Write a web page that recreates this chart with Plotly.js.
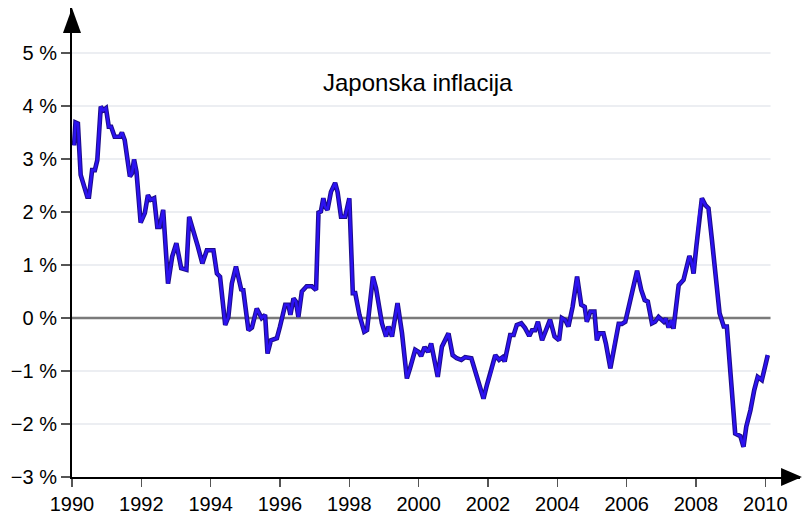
<!DOCTYPE html>
<html>
<head>
<meta charset="utf-8">
<script src="https://cdn.plot.ly/plotly-3.0.1.min.js"></script>
<style>html,body{margin:0;padding:0;background:#fff;}#chart{width:803px;height:516px;}</style>
</head>
<body>
<div id="chart"></div>
<script>
// Japan inflation (%), decimal years
const years = [
1990.06,1990.10,1990.17,1990.25,1990.44,1990.49,1990.58,1990.66,1990.73,1990.83,1990.90,1990.98,
1991.06,1991.13,1991.23,1991.38,1991.44,1991.52,1991.67,1991.73,1991.79,1991.86,1991.98,
1992.10,1992.19,1992.27,1992.37,1992.46,1992.53,1992.63,1992.77,1992.89,
1993.01,1993.15,1993.30,1993.38,1993.63,1993.76,1993.89,
1994.08,1994.18,1994.27,1994.42,1994.51,1994.61,1994.73,1994.88,1994.94,
1995.09,1995.19,1995.33,1995.40,1995.47,1995.57,1995.64,1995.74,1995.91,
1996.00,1996.15,1996.24,1996.30,1996.39,1996.46,1996.53,1996.63,1996.77,1996.92,
1997.04,1997.11,1997.18,1997.25,1997.30,1997.37,1997.47,1997.59,1997.66,1997.76,1997.88,
1998.00,1998.10,1998.17,1998.29,1998.43,1998.51,1998.68,1998.77,1998.94,
1999.06,1999.13,1999.23,1999.39,1999.52,1999.66,1999.75,1999.90,
2000.00,2000.07,2000.17,2000.27,2000.36,2000.55,2000.67,2000.86,2000.98,
2001.10,2001.23,2001.34,2001.52,2001.63,2001.75,2001.87,2001.97,
2002.09,2002.21,2002.32,2002.42,2002.48,2002.55,2002.64,2002.74,2002.83,2002.96,
2003.07,2003.19,2003.27,2003.36,2003.44,2003.56,2003.67,2003.79,2003.92,
2004.05,2004.13,2004.23,2004.32,2004.44,2004.57,2004.69,2004.79,2004.85,2004.95,
2005.07,2005.14,2005.21,2005.33,2005.40,2005.53,2005.65,2005.77,2005.86,2005.96,
2006.06,2006.17,2006.30,2006.42,2006.52,2006.61,2006.73,2006.82,2006.92,
2007.07,2007.13,2007.21,2007.29,2007.35,2007.45,2007.50,2007.64,2007.74,2007.81,2007.88,2007.93,
2008.01,2008.10,2008.17,2008.27,2008.36,2008.46,2008.56,2008.68,2008.80,2008.89,
2009.01,2009.13,2009.28,2009.37,2009.45,2009.57,2009.68,2009.78,2009.90,2009.97,
2010.07
];
const inflation = [
3.26,3.69,3.67,2.70,2.29,2.29,2.79,2.79,2.98,3.99,3.92,3.96,
3.61,3.61,3.42,3.42,3.50,3.36,2.67,2.73,2.99,2.76,1.80,
1.98,2.32,2.23,2.26,1.72,1.72,2.04,0.65,1.16,
1.41,0.94,0.91,1.91,1.35,1.03,1.28,
1.28,0.84,0.78,-0.13,0.02,0.65,0.97,0.54,0.53,
-0.23,-0.18,0.18,0.09,0.00,0.06,-0.67,-0.42,-0.38,
-0.16,0.25,0.25,0.06,0.37,0.31,0.02,0.50,0.60,0.60,
0.53,1.99,2.01,2.26,2.10,2.04,2.38,2.55,2.38,1.91,1.91,
2.26,0.47,0.47,0.06,-0.26,-0.23,0.78,0.56,-0.10,
-0.35,-0.16,-0.35,0.28,-0.29,-1.14,-0.95,-0.60,
-0.64,-0.72,-0.55,-0.64,-0.48,-1.11,-0.54,-0.29,-0.70,
-0.76,-0.79,-0.74,-0.76,-0.98,-1.26,-1.52,-1.26,
-1.01,-0.70,-0.79,-0.74,-0.82,-0.60,-0.32,-0.32,-0.13,-0.10,
-0.19,-0.34,-0.23,-0.23,-0.07,-0.42,-0.23,-0.03,-0.35,
-0.42,0.00,-0.04,-0.16,0.21,0.78,0.25,0.21,-0.07,0.12,
0.12,-0.42,-0.29,-0.29,-0.48,-0.95,-0.48,-0.11,-0.11,-0.07,
0.21,0.50,0.89,0.53,0.34,0.31,-0.10,-0.07,0.02,
-0.07,-0.01,-0.18,-0.04,-0.20,0.40,0.62,0.72,0.97,1.17,1.03,0.84,
1.35,1.98,2.26,2.13,2.07,1.47,0.78,0.09,-0.16,-0.16,
-1.17,-2.18,-2.23,-2.43,-2.05,-1.74,-1.36,-1.11,-1.17,-0.98,
-0.70
];
const xTickVals = [1990,1992,1994,1996,1998,2000,2002,2004,2006,2008,2010];
const xTickText = ["1990","1992","1994","1996","1998","2000","2002","2004","2006","2008","2010"];
const yTickVals = [-3,-2,-1,0,1,2,3,4,5];
const yTickText = ["\u22123 %","\u22122 %","\u22121 %","0 %","1 %","2 %","3 %","4 %","5 %"];
const chartTitle = "Japonska inflacija";

const FONT = "Liberation Sans, Arial, sans-serif";
const shapes = [];
yTickVals.forEach(v => {
  if (v === -3) return;
  shapes.push({
    type: 'line', xref: 'x', yref: 'y', x0: 1990, x1: 2010.15, y0: v, y1: v,
    line: v === 0 ? {color: '#7a7a7a', width: 2.5} : {color: '#e6e9ee', width: 1.5},
    layer: 'below'
  });
});
// axis arrowheads
shapes.push({type: 'path', xref: 'paper', yref: 'paper',
  path: 'M -0.0124,0.9467 L 0,1 L 0.0124,0.9467 Z', fillcolor: '#000', line: {width: 0}});
shapes.push({type: 'path', xref: 'paper', yref: 'paper',
  path: 'M 0.974,0.0192 L 1.0027,0 L 0.974,-0.0192 Z', fillcolor: '#000', line: {width: 0}});

const traceEdge = {
  x: years, y: inflation, type: 'scatter', mode: 'lines',
  line: {color: '#1c0c8a', width: 4.6, shape: 'linear'},
  hoverinfo: 'skip'
};
const trace = {
  x: years, y: inflation, type: 'scatter', mode: 'lines',
  line: {color: '#2c12f0', width: 2.6, shape: 'linear'},
  hoverinfo: 'skip'
};

const layout = {
  width: 803, height: 516,
  margin: {l: 72, r: 3, t: 8, b: 39},
  paper_bgcolor: '#fff', plot_bgcolor: '#fff',
  showlegend: false,
  font: {family: FONT, color: '#000', size: 20},
  xaxis: {
    range: [1990, 2011.0], showgrid: false, zeroline: false,
    showline: true, linecolor: '#000', linewidth: 2,
    ticks: 'outside', ticklen: 8, tickwidth: 1.5, tickcolor: '#555',
    tickvals: xTickVals, ticktext: xTickText,
    tickfont: {family: FONT, size: 20, color: '#000'}
  },
  yaxis: {
    range: [-3, 5.85], showgrid: false, zeroline: false,
    showline: true, linecolor: '#000', linewidth: 2,
    ticks: 'outside', ticklen: 9, tickwidth: 1.5, tickcolor: '#555',
    tickvals: yTickVals, ticktext: yTickText,
    tickfont: {family: FONT, size: 20, color: '#000'}
  },
  shapes: shapes,
  annotations: [{
    text: chartTitle, xref: 'paper', yref: 'paper', x: 0.475, y: 0.842,
    xanchor: 'center', yanchor: 'middle', showarrow: false,
    font: {family: FONT, size: 24, color: '#000'}
  }]
};

Plotly.newPlot('chart', [traceEdge, trace], layout, {staticPlot: true, displayModeBar: false});
</script>
</body>
</html>
